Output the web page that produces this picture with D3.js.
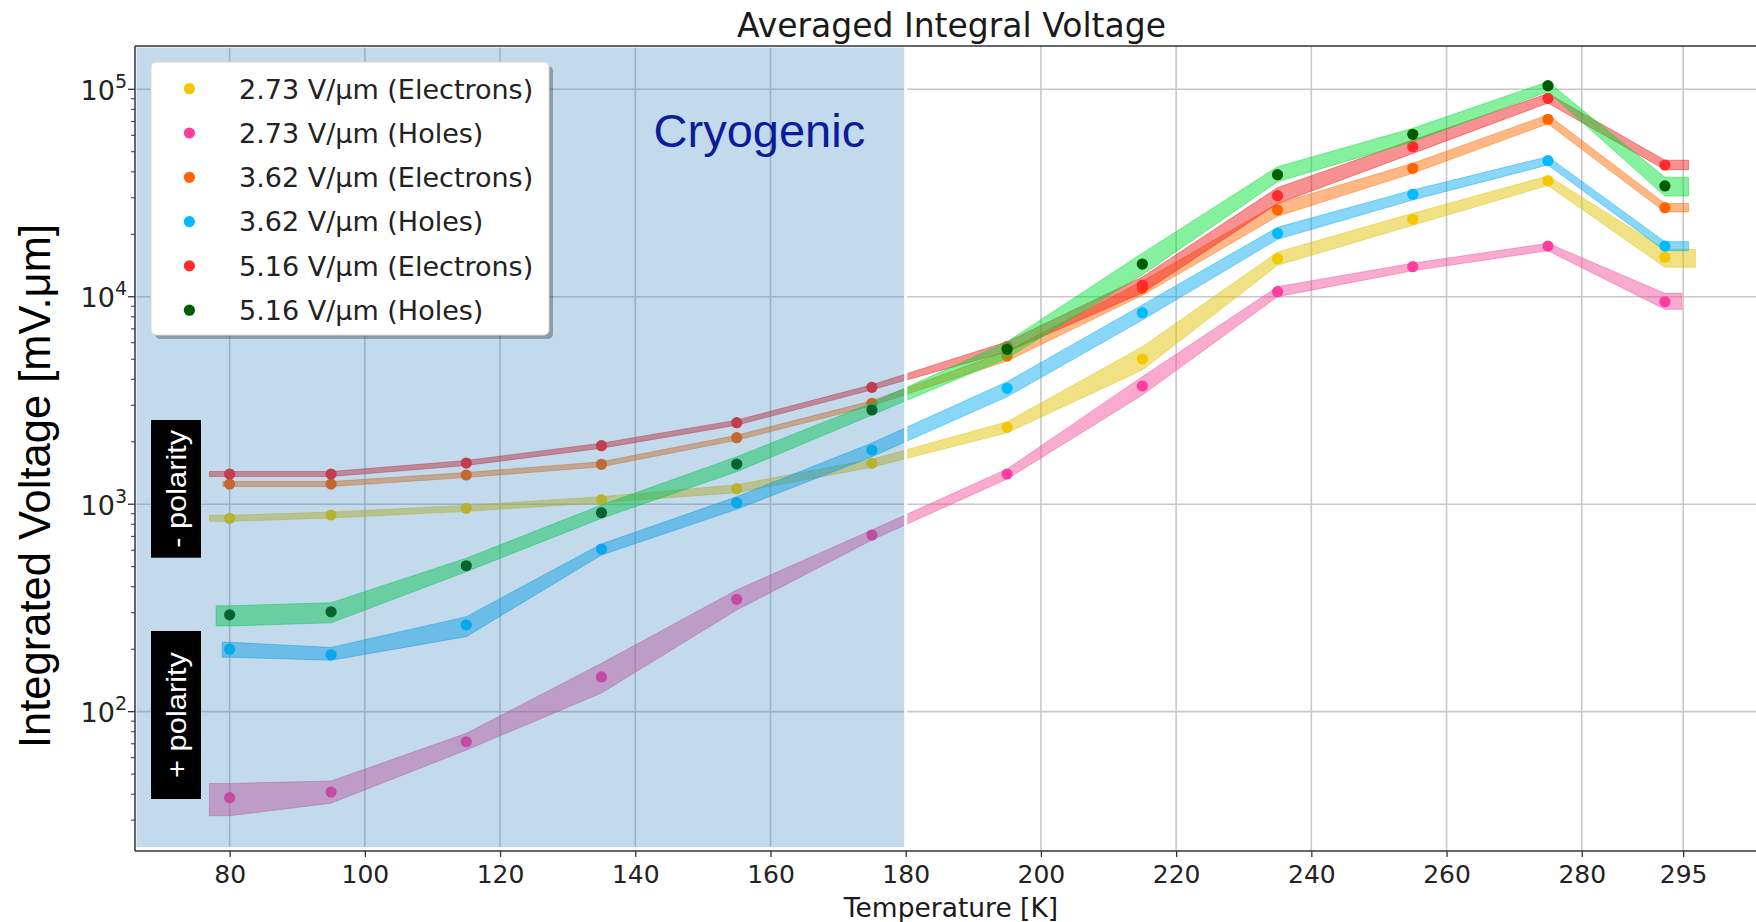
<!DOCTYPE html>
<html>
<head>
<meta charset="utf-8">
<script src="https://cdn.jsdelivr.net/npm/d3@7"></script>
<style>
  html, body { margin: 0; padding: 0; background: #fff; }
  svg { display: block; }
</style>
</head>
<body>
<svg id="chart" width="1756" height="922"></svg>
<script>
// ---------------- DATA ----------------
const temps = [80, 95, 115, 135, 155, 175, 195, 215, 235, 255, 275, 292.3];
const xTicks = [80, 100, 120, 140, 160, 180, 200, 220, 240, 260, 280, 295];
const yTicks = [1e2, 1e3, 1e4, 1e5];
const yTickExp = ["2", "3", "4", "5"];
const seriesLabels = ["2.73 V/μm (Electrons)", "2.73 V/μm (Holes)", "3.62 V/μm (Electrons)",
                      "3.62 V/μm (Holes)", "5.16 V/μm (Electrons)", "5.16 V/μm (Holes)"];

const e273   = [855, 887, 955, 1051, 1188, 1575, 2348, 5011, 15260, 23630, 36260, 15500];
const e273Lo = [827, 858, 924, 1016, 1137, 1507, 2209, 4436, 14170, 22100, 34400, 13870];
const e273Hi = [884, 917, 987, 1087, 1241, 1646, 2496, 5743, 16430, 25260, 38220, 16930];

const h273   = [38.5, 41.0, 71.6, 147, 348, 710, 1398, 3713, 10580, 13960, 17560, 9465];
const h273Lo = [31.5, 36.2, 65.3, 123, 309, 672, 1323, 3360, 10010, 13350, 16670, 8700];
const h273Hi = [45.1, 46.3, 78.6, 171, 386, 751, 1478, 4117, 11180, 14500, 18100, 10390];

const e362   = [1251, 1251, 1383, 1557, 2092, 3065, 5180, 10980, 26200, 41610, 71700, 26870];
const e362Lo = [1217, 1217, 1345, 1515, 2035, 2982, 4900, 10160, 24440, 39370, 68220, 25640];
const e362Hi = [1286, 1286, 1422, 1601, 2150, 3151, 5475, 11870, 28090, 43980, 75360, 28160];

const h362   = [200, 188, 262, 608, 1017, 1825, 3620, 8378, 20220, 31180, 45280, 17560];
const h362Lo = [183, 177, 230, 569, 945, 1694, 3297, 7725, 18920, 29270, 43170, 16670];
const h362Hi = [216, 204, 287, 643, 1087, 1972, 3895, 9126, 21610, 32700, 47330, 18430];

const e516   = [1398, 1398, 1580, 1914, 2472, 3660, 5743, 11390, 30700, 52880, 90510, 43170];
const e516Lo = [1360, 1360, 1537, 1862, 2405, 3560, 5433, 10420, 28090, 49100, 85870, 40960];
const e516Hi = [1437, 1437, 1624, 1968, 2541, 3762, 6070, 12450, 33550, 56950, 95400, 45500];

const h516   = [293, 303, 505, 910, 1562, 2845, 5581, 14380, 38760, 60700, 104100, 34200];
const h516Lo = [259, 268, 473, 855, 1434, 2692, 5050, 12730, 35860, 55890, 97360, 30600];
const h516Hi = [324, 335, 549, 991, 1694, 3074, 6072, 16200, 42360, 64860, 108800, 37650];

// band extents in temperature (start / end of shaded uncertainty band)
const bandStart = [77, 77, 79, 78.9, 77, 78];
const bandEnd   = [296.8, 294.8, 295.8, 295.8, 295.8, 295.8];

const cryoEnd = 180;

// ---------------- STYLE ----------------
const pointColors = ["#f2c900", "#ff3d9e", "#ff6400", "#00bbff", "#ff2a2a", "#005c00"];
const bandColors  = ["#e0c000", "#f0509a", "#ff6a00", "#06aaf0", "#f01a1a", "#00e032"];

const series = [
  {v: e273, lo: e273Lo, hi: e273Hi},
  {v: h273, lo: h273Lo, hi: h273Hi},
  {v: e362, lo: e362Lo, hi: e362Hi},
  {v: h362, lo: h362Lo, hi: h362Hi},
  {v: e516, lo: e516Lo, hi: e516Hi},
  {v: h516, lo: h516Lo, hi: h516Hi}
];

const svg = d3.select("#chart");
const W = 1756, H = 922;
const plot = {left: 135, right: 1767, top: 46, bottom: 851};

const x = d3.scaleLinear().domain([66.0, 307.4]).range([plot.left, plot.right]);
const y = d3.scaleLog().domain([21.3, 161700]).range([plot.bottom, plot.top]);

svg.append("rect").attr("width", W).attr("height", H).attr("fill", "#fff");

const defs = svg.append("defs");
defs.append("clipPath").attr("id", "clip")
  .append("rect").attr("x", plot.left).attr("y", plot.top)
  .attr("width", plot.right - plot.left).attr("height", plot.bottom - plot.top);

const gPlot = svg.append("g").attr("clip-path", "url(#clip)");

// grid
gPlot.selectAll(".vgrid").data(xTicks).enter().append("line")
  .attr("x1", d => x(d)).attr("x2", d => x(d))
  .attr("y1", plot.top).attr("y2", plot.bottom)
  .attr("stroke", "#c8c8c8").attr("stroke-width", 1.6);
gPlot.selectAll(".hgrid").data(yTicks).enter().append("line")
  .attr("x1", plot.left).attr("x2", plot.right)
  .attr("y1", d => y(d)).attr("y2", d => y(d))
  .attr("stroke", "#c8c8c8").attr("stroke-width", 1.6);

// bands + points
const area = d3.area().x(d => x(d.t)).y0(d => y(d.lo)).y1(d => y(d.hi));
series.forEach((s, i) => {
  const pts = temps.map((t, k) => ({t, lo: s.lo[k], hi: s.hi[k]}));
  const n = pts.length;
  const bandPts = [{t: bandStart[i], lo: s.lo[0], hi: s.hi[0]}]
    .concat(pts)
    .concat([{t: bandEnd[i], lo: s.lo[n - 1], hi: s.hi[n - 1]}]);
  gPlot.append("path").datum(bandPts)
    .attr("d", area)
    .attr("fill", bandColors[i]).attr("fill-opacity", 0.48)
    .attr("stroke", bandColors[i]).attr("stroke-opacity", 0.45).attr("stroke-width", 1);
  gPlot.selectAll(".pt" + i).data(temps).enter().append("circle")
    .attr("cx", d => x(d)).attr("cy", (d, k) => y(s.v[k]))
    .attr("r", 5.6).attr("fill", pointColors[i]);
});

// cryogenic shading (drawn on top of data, semi-transparent)
svg.append("rect")
  .attr("x", plot.left).attr("y", plot.top)
  .attr("width", x(cryoEnd) - plot.left).attr("height", 848.5 - plot.top)
  .attr("fill", "#1f77b4").attr("fill-opacity", 0.27)
  .attr("stroke", "#fff").attr("stroke-width", 3);

svg.append("text").attr("x", 653.6).attr("y", 146.7)
  .attr("font-family", "Liberation Sans, Arial, sans-serif").attr("font-size", 47)
  .attr("fill", "#0c1c98").text("Cryogenic");

// spines
const spine = svg.append("g").attr("stroke", "#333").attr("stroke-width", 1.5);
spine.append("line").attr("x1", plot.left).attr("x2", plot.left).attr("y1", plot.top).attr("y2", plot.bottom);
spine.append("line").attr("x1", plot.left).attr("x2", W).attr("y1", plot.bottom).attr("y2", plot.bottom);
spine.append("line").attr("x1", plot.left).attr("x2", W).attr("y1", plot.top).attr("y2", plot.top);

// x axis ticks
const xAxis = d3.axisBottom(x).tickValues(xTicks).tickSize(6).tickPadding(8).tickFormat(d3.format("d"));
const gx = svg.append("g").attr("transform", `translate(0,${plot.bottom})`).call(xAxis);
gx.select(".domain").remove();
gx.selectAll(".tick line").attr("stroke", "#333").attr("stroke-width", 1.3);
gx.selectAll(".tick text").attr("font-family", "DejaVu Sans, sans-serif")
  .attr("font-size", 25).attr("fill", "#222");

// y axis ticks (major + minor)
const minor = [];
for (let e = 1; e <= 5; e++) for (let m = 2; m <= 9; m++) {
  const v = m * Math.pow(10, e);
  if (v >= y.domain()[0] && v <= y.domain()[1]) minor.push(v);
}
const gy = svg.append("g");
gy.selectAll(".ymin").data(minor).enter().append("line")
  .attr("x1", plot.left - 4).attr("x2", plot.left)
  .attr("y1", d => y(d)).attr("y2", d => y(d))
  .attr("stroke", "#333").attr("stroke-width", 1);
gy.selectAll(".ymaj").data(yTicks).enter().append("line")
  .attr("x1", plot.left - 7).attr("x2", plot.left)
  .attr("y1", d => y(d)).attr("y2", d => y(d))
  .attr("stroke", "#333").attr("stroke-width", 1.3);
const yl = gy.selectAll(".ylab").data(yTicks).enter().append("text")
  .attr("x", 127).attr("y", d => y(d) + 10.5)
  .attr("text-anchor", "end")
  .attr("font-family", "DejaVu Sans, sans-serif").attr("font-size", 27).attr("fill", "#222");
yl.append("tspan").text("10");
yl.append("tspan").attr("dy", -12).attr("font-size", 19).text((d, i) => yTickExp[i]);

// legend
const lg = svg.append("g");
lg.append("rect").attr("x", 155).attr("y", 66).attr("width", 398).attr("height", 273)
  .attr("rx", 5).attr("fill", "#000").attr("fill-opacity", 0.28);
lg.append("rect").attr("x", 151).attr("y", 62).attr("width", 398).attr("height", 273)
  .attr("rx", 5).attr("fill", "#fff").attr("stroke", "#d6d6d6").attr("stroke-width", 1);
seriesLabels.forEach((lab, i) => {
  const cy = 88.7 + i * 44.3;
  lg.append("circle").attr("cx", 189.4).attr("cy", cy).attr("r", 5.6).attr("fill", pointColors[i]);
  lg.append("text").attr("x", 239).attr("y", cy + 9.8)
    .attr("font-family", "DejaVu Sans, sans-serif").attr("font-size", 27).attr("fill", "#222")
    .text(lab);
});

// polarity boxes
const pol = [{y0: 420, y1: 557.7, t: "- polarity", len: 118}, {y0: 631, y1: 799, t: "+ polarity", len: 126}];
pol.forEach(p => {
  svg.append("rect").attr("x", 151).attr("y", p.y0).attr("width", 50).attr("height", p.y1 - p.y0).attr("fill", "#000");
  const cy = (p.y0 + p.y1) / 2;
  svg.append("text").attr("transform", `translate(186,${cy}) rotate(-90)`)
    .attr("text-anchor", "middle")
    .attr("font-family", "Liberation Sans, Arial, sans-serif").attr("font-size", 27)
    .attr("fill", "#fff").attr("textLength", p.len).attr("lengthAdjust", "spacingAndGlyphs")
    .text(p.t);
});

// titles
svg.append("text").attr("x", 951.5).attr("y", 36.7).attr("text-anchor", "middle")
  .attr("font-family", "DejaVu Sans, sans-serif").attr("font-size", 33).attr("fill", "#1a1a1a")
  .text("Averaged Integral Voltage");
svg.append("text").attr("x", 951).attr("y", 916.7).attr("text-anchor", "middle")
  .attr("font-family", "DejaVu Sans, sans-serif").attr("font-size", 26.5).attr("fill", "#1a1a1a")
  .text("Temperature [K]");
svg.append("text").attr("transform", "translate(50,486) rotate(-90)").attr("text-anchor", "middle")
  .attr("font-family", "Liberation Sans, Arial, sans-serif").attr("font-size", 43.5).attr("fill", "#000")
  .text("Integrated Voltage [mV.μm]");
</script>
</body>
</html>
